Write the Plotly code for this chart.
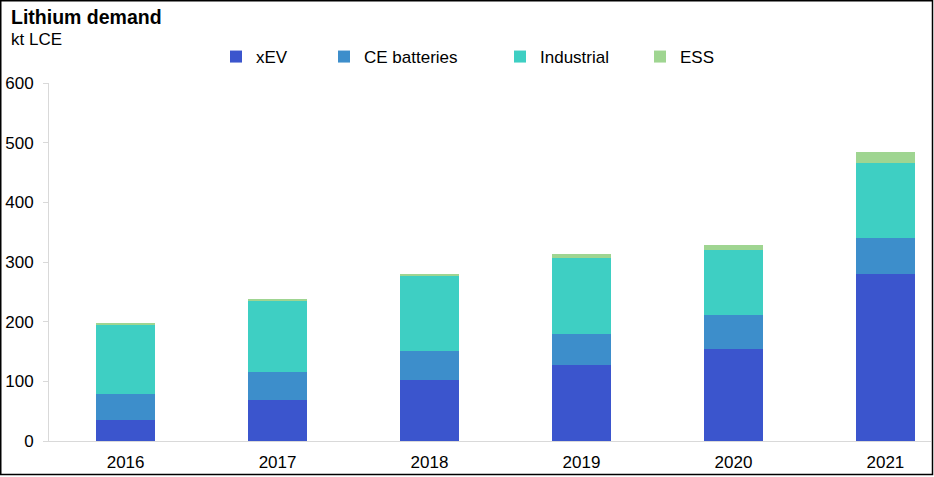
import plotly.graph_objects as go

years = ["2016", "2017", "2018", "2019", "2020", "2021"]
xev = [35, 69, 102, 127, 154, 280]
ce_batteries = [44, 47, 49, 52, 57, 61]
industrial = [117, 120, 126, 128, 109, 125]
ess = [1, 2, 2, 6, 8, 19]

series = [
    ("xEV", xev, "#3B55CD", "legend"),
    ("CE batteries", ce_batteries, "#3D8ECB", "legend2"),
    ("Industrial", industrial, "#3ECFC3", "legend3"),
    ("ESS", ess, "#9FD591", "legend4"),
]

FONT = "Liberation Sans, Arial, sans-serif"
W, H = 934, 477
L, R, T, B = 49, 3, 83, 36
pw = W - L - R
ph = H - T - B

def px_x(px):
    return (px - L) / pw

def px_y(py):
    return (H - B - py) / ph

fig = go.Figure()
for name, vals, color, lg in series:
    fig.add_trace(go.Bar(
        x=years, y=vals, name=name, marker=dict(color=color, line=dict(width=0)),
        width=0.39, legend=lg, showlegend=True,
    ))

legend_common = dict(orientation="h", yanchor="middle", xanchor="left",
                     font=dict(family=FONT, size=17, color="#000"),
                     bgcolor="rgba(0,0,0,0)", borderwidth=0)
text_starts = [256, 364, 540, 680]
lg_names = ["legend", "legend2", "legend3", "legend4"]
legend_layout = {}
for lg, ts in zip(lg_names, text_starts):
    legend_layout[lg] = dict(legend_common, x=px_x(ts - 40), y=px_y(57))

fig.update_layout(
    width=W, height=H,
    margin=dict(l=L, r=R, t=T, b=B),
    barmode="stack",
    showlegend=True,
    plot_bgcolor="white", paper_bgcolor="white",
    font=dict(family=FONT, size=17, color="#000"),
    xaxis=dict(
        type="category", range=[-0.504, 5.3], showgrid=False,
        showline=True, linecolor="#D9D9D9", linewidth=1,
        ticks="", tickfont=dict(size=17, color="#000"), ticklabelstandoff=6,
    ),
    yaxis=dict(
        range=[0, 600], dtick=100, showgrid=False, zeroline=False,
        showline=True, linecolor="#D9D9D9", linewidth=1,
        ticks="outside", ticklen=5, tickcolor="#D9D9D9",
        tickfont=dict(size=17, color="#000"), ticklabelstandoff=6,
    ),
    annotations=[
        dict(text="<b>Lithium demand</b>", x=px_x(9), y=px_y(17), xref="paper", yref="paper",
             xanchor="left", yanchor="middle", showarrow=False,
             font=dict(family=FONT, size=19.5, color="#000")),
        dict(text="kt LCE", x=px_x(9), y=px_y(39), xref="paper", yref="paper",
             xanchor="left", yanchor="middle", showarrow=False,
             font=dict(family=FONT, size=17, color="#000")),
    ],
    shapes=[
        dict(type="rect", xref="paper", yref="paper",
             x0=px_x(0.75), x1=px_x(932.5), y0=px_y(474.5), y1=px_y(0.75),
             line=dict(color="#000", width=1.5), fillcolor="rgba(0,0,0,0)", layer="above"),
    ],
    **legend_layout,
)

fig.write_html("out.html", config={"displayModeBar": False},
               post_script="document.body.style.margin='0';document.body.style.overflow='hidden';")
